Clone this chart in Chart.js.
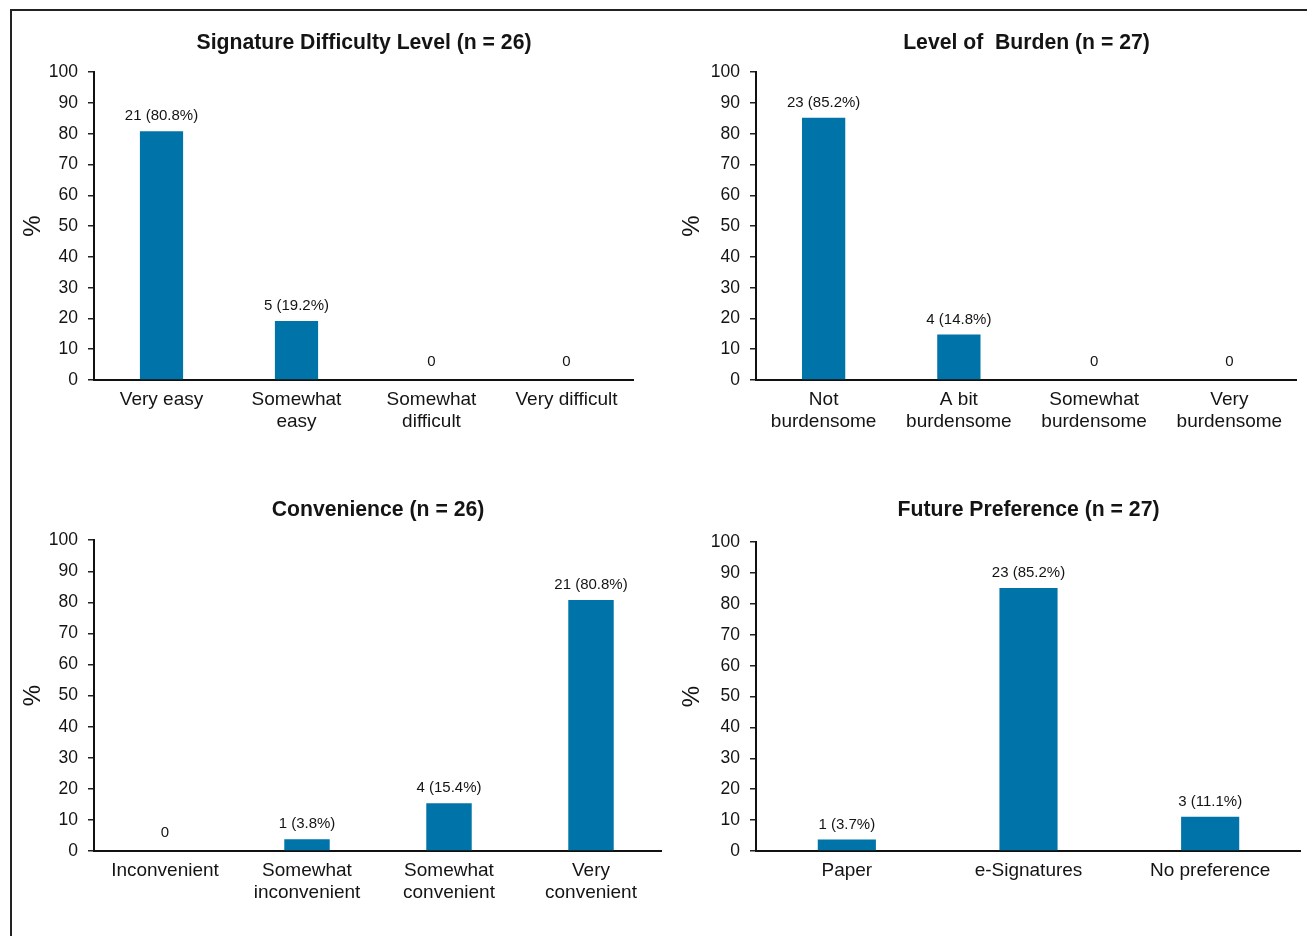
<!DOCTYPE html>
<html>
<head>
<meta charset="utf-8">
<title>Signature survey results</title>
<script src="https://cdn.jsdelivr.net/npm/chart.js@4.4.1/dist/chart.umd.min.js"></script>
<style>
  html, body { margin: 0; padding: 0; background: #fff; }
  #page { position: relative; width: 1307px; height: 936px; overflow: hidden; background: #fff; }
  #frame { position: absolute; left: 10px; top: 9px; right: -10px; bottom: -10px;
           border-left: 2px solid #222; border-top: 2px solid #222; }
  canvas { position: absolute; }
</style>
</head>
<body>
<div id="page">
  <div id="frame"></div>
  <canvas id="difficulty"></canvas>
  <canvas id="burden"></canvas>
  <canvas id="convenience"></canvas>
  <canvas id="preference"></canvas>
</div>
<script>
// ---- survey data ----
const difficultyLabels = ['Very easy', ['Somewhat', 'easy'], ['Somewhat', 'difficult'], 'Very difficult'];
const difficultyCounts = [21, 5, 0, 0];
const difficultyPct = [80.8, 19.2, 0, 0];

const burdenLabels = [['Not', 'burdensome'], ['A bit', 'burdensome'], ['Somewhat', 'burdensome'], ['Very', 'burdensome']];
const burdenCounts = [23, 4, 0, 0];
const burdenPct = [85.2, 14.8, 0, 0];

const convenienceLabels = ['Inconvenient', ['Somewhat', 'inconvenient'], ['Somewhat', 'convenient'], ['Very', 'convenient']];
const convenienceCounts = [0, 1, 4, 21];
const conveniencePct = [0, 3.8, 15.4, 80.8];

const preferenceLabels = ['Paper', 'e-Signatures', 'No preference'];
const preferenceCounts = [1, 23, 3];
const preferencePct = [3.7, 85.2, 11.1];

const yTickValues = [0, 10, 20, 30, 40, 50, 60, 70, 80, 90, 100];

// ---- styling ----
const FONT = '"Liberation Sans", Arial, Helvetica, sans-serif';
const INK = '#141414';
const BAR = '#0073a8';

// count (percent) text above each bar
const barValueLabels = {
  id: 'barValueLabels',
  afterDatasetsDraw(chart, args, opts) {
    const ctx = chart.ctx;
    const meta = chart.getDatasetMeta(0);
    const values = chart.data.datasets[0].data;
    ctx.save();
    ctx.font = '15px ' + FONT;
    ctx.fillStyle = INK;
    ctx.textAlign = 'center';
    ctx.textBaseline = 'middle';
    meta.data.forEach((bar, i) => {
      const n = opts.counts[i];
      const text = n === 0 ? '0' : `${n} (${values[i]}%)`;
      ctx.fillText(text, bar.x, bar.y - (n === 0 ? 18 : 15));
    });
    ctx.restore();
  }
};

function makeChart(id, box, title, labels, values, counts) {
  const el = document.getElementById(id);
  el.width = box.w; el.height = box.h;
  el.style.left = box.x + 'px'; el.style.top = box.y + 'px';
  el.style.width = box.w + 'px'; el.style.height = box.h + 'px';
  return new Chart(el, {
    type: 'bar',
    data: {
      labels: labels,
      datasets: [{
        data: values,
        backgroundColor: BAR,
        borderWidth: 0,
        categoryPercentage: 1,
        barPercentage: 0.32
      }]
    },
    plugins: [barValueLabels],
    options: {
      responsive: false,
      animation: false,
      devicePixelRatio: 1,
      layout: { padding: 0 },
      plugins: {
        legend: { display: false },
        tooltip: { enabled: false },
        title: {
          display: true,
          text: title,
          fullSize: false,
          color: INK,
          font: { family: FONT, size: 21.2, weight: 'bold', lineHeight: 1.2 },
          padding: { top: 2, bottom: box.titleGap - 2 }
        },
        barValueLabels: { counts: counts }
      },
      scales: {
        x: {
          offset: true,
          grid: { display: false, drawTicks: false },
          border: { display: true, color: '#111', width: 2 },
          ticks: {
            color: INK, padding: 9, autoSkip: false, maxRotation: 0, minRotation: 0,
            font: { family: FONT, size: 19, lineHeight: 1.16 }
          },
          afterFit(scale) { scale.height = 60; }
        },
        y: {
          min: 0, max: 100,
          afterBuildTicks(scale) { scale.ticks = yTickValues.map(v => ({ value: v })); },
          grid: { drawOnChartArea: false, drawTicks: true, tickLength: 6, color: '#222', lineWidth: 1.5 },
          border: { display: true, color: '#111', width: 2 },
          ticks: {
            color: INK, padding: 10, autoSkip: false,
            font: { family: FONT, size: 17.5 }
          },
          title: {
            display: true, text: '%', color: INK,
            font: { family: FONT, size: 24, lineHeight: 1.2 },
            padding: { top: 4.6, bottom: 0 }
          },
          afterFit(scale) { scale.width = box.axisW; }
        }
      }
    }
  });
}

makeChart('difficulty', { x: 14, y: 28, w: 620, h: 412, axisW: 80, titleGap: 18.8 },
  'Signature Difficulty Level (n = 26)', difficultyLabels, difficultyPct, difficultyCounts);
makeChart('burden', { x: 673, y: 28, w: 624, h: 412, axisW: 83, titleGap: 18.8 },
  'Level of  Burden (n = 27)', burdenLabels, burdenPct, burdenCounts);
makeChart('convenience', { x: 14, y: 495, w: 648, h: 416, axisW: 80, titleGap: 19.8 },
  'Convenience (n = 26)', convenienceLabels, conveniencePct, convenienceCounts);
makeChart('preference', { x: 673, y: 495, w: 628, h: 416, axisW: 83, titleGap: 21.8 },
  'Future Preference (n = 27)', preferenceLabels, preferencePct, preferenceCounts);
</script>
</body>
</html>
